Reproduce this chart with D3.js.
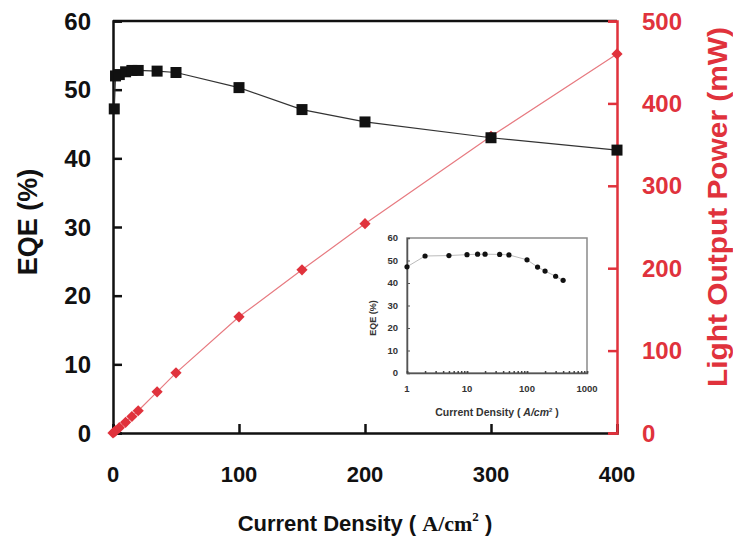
<!DOCTYPE html>
<html><head><meta charset="utf-8">
<script src="https://cdn.jsdelivr.net/npm/d3@7"></script>
<style>body{margin:0;background:#fff}</style>
</head><body>
<svg id="c" width="733" height="553"></svg>
<script>
const currentDensity = [1,2,5,10,15,20,35,50,100,150,200,300,400];
const eqeValues = [47.2,52.0,52.2,52.6,52.8,52.8,52.7,52.5,50.3,47.1,45.3,43.0,41.2];
const powerJ = [0,1,2,5,10,15,20,35,50,100,150,200,300,400];
const powerValues = [0,1.3,2.6,6.5,13,20,27,50,73,141,198,254,360,460];
const xTicks = [0,100,200,300,400];
const eqeTicks = [0,10,20,30,40,50,60];
const powerTicks = [0,100,200,300,400,500];
const insetXTicks = [1,10,100,1000];
const insetYTicks = [0,10,20,30,40,50,60];

const svg = d3.select("#c");
const RED = "#e0323c";
const FONT = "Liberation Sans, Arial, sans-serif";

const x = d3.scaleLinear().domain([0,400]).range([113,617]);
const yL = d3.scaleLinear().domain([0,60]).range([433,21]);
const yR = d3.scaleLinear().domain([0,500]).range([433,21]);

// frame top
svg.append("line").attr("x1",113).attr("x2",617).attr("y1",yL(60)).attr("y2",yL(60)).attr("stroke","#111").attr("stroke-width",2.5);

// left axis
const gL = svg.append("g").attr("transform","translate(113,0)")
  .call(d3.axisRight(yL).tickValues(eqeTicks).tickSize(9).tickFormat(""));
gL.select(".domain").attr("stroke","#111").attr("stroke-width",2.5);
gL.selectAll(".tick line").attr("stroke","#111").attr("stroke-width",2.5);
svg.append("g").selectAll("text").data(eqeTicks).join("text")
  .attr("x",91).attr("y",d=>yL(d)).attr("dy","0.36em").attr("text-anchor","end")
  .attr("font-family",FONT).attr("font-size",24).attr("font-weight","bold").attr("fill","#111").text(d=>d);

// bottom axis
const gB = svg.append("g").attr("transform","translate(0,433)")
  .call(d3.axisTop(x).tickValues(xTicks).tickSize(9).tickFormat(""));
gB.select(".domain").attr("stroke","#111").attr("stroke-width",2.5);
gB.selectAll(".tick line").attr("stroke","#111").attr("stroke-width",2.5);
svg.append("g").selectAll("text").data(xTicks).join("text")
  .attr("x",d=>x(d)).attr("y",474).attr("dy","0.36em").attr("text-anchor","middle")
  .attr("font-family",FONT).attr("font-size",22).attr("font-weight","bold").attr("fill","#111").text(d=>d);

// right axis
const gR = svg.append("g").attr("transform","translate(617,0)")
  .call(d3.axisLeft(yR).tickValues(powerTicks).tickSize(9).tickFormat(""));
gR.select(".domain").attr("stroke",RED).attr("stroke-width",2.5);
gR.selectAll(".tick line").attr("stroke",RED).attr("stroke-width",2.5);
svg.append("g").selectAll("text").data(powerTicks).join("text")
  .attr("x",642).attr("y",d=>yR(d)).attr("dy","0.36em").attr("text-anchor","start")
  .attr("font-family",FONT).attr("font-size",24).attr("font-weight","bold").attr("fill",RED).text(d=>d);

// axis titles
svg.append("text").attr("transform","translate(37,222) rotate(-90)").attr("text-anchor","middle")
  .attr("font-family",FONT).attr("font-size",27).attr("font-weight","bold").attr("fill","#111").text("EQE (%)");
svg.append("text").attr("transform","translate(727,207) rotate(-90)").attr("text-anchor","middle")
  .attr("textLength",360).attr("lengthAdjust","spacingAndGlyphs")
  .attr("font-family",FONT).attr("font-size",27).attr("font-weight","bold").attr("fill",RED).text("Light Output Power (mW)");
const xt = svg.append("text").attr("x",365).attr("y",531).attr("text-anchor","middle")
  .attr("font-family",FONT).attr("font-size",22).attr("font-weight","bold").attr("fill","#111");
xt.append("tspan").text("Current Density ( ");
xt.append("tspan").attr("font-family","Liberation Serif, Times New Roman, serif").text("A/cm");
xt.append("tspan").attr("font-family","Liberation Serif, serif").attr("font-size",13).attr("dy",-10).text("2");
xt.append("tspan").attr("dy",10).text(" )");

// power line & markers
const pData = powerJ.map((j,i)=>[j,powerValues[i]]);
svg.append("path").datum(pData).attr("fill","none").attr("stroke","#e77a80").attr("stroke-width",1.2)
  .attr("d",d3.line().x(d=>x(d[0])).y(d=>yR(d[1])));
svg.append("g").selectAll("path").data(pData).join("path")
  .attr("transform",d=>`translate(${x(d[0])},${yR(d[1])})`)
  .attr("d",d3.symbol(d3.symbolDiamond2 || d3.symbolDiamond,80)).attr("fill",RED);

// EQE line & markers
const eData = currentDensity.map((j,i)=>[j,eqeValues[i]]);
svg.append("path").datum(eData).attr("fill","none").attr("stroke","#333").attr("stroke-width",1.2)
  .attr("d",d3.line().x(d=>x(d[0])).y(d=>yL(d[1])));
svg.append("g").selectAll("rect").data(eData).join("rect")
  .attr("x",d=>x(d[0])-5.5).attr("y",d=>yL(d[1])-5.5).attr("width",11).attr("height",11).attr("fill","#111");

// inset
const ix = d3.scaleLog().domain([1,1000]).range([407,587]);
const iy = d3.scaleLinear().domain([0,60]).range([373,238]);
const GRAY = "#8a8a8a";
svg.append("rect").attr("x",407).attr("y",238).attr("width",180).attr("height",135)
  .attr("fill","#fff").attr("stroke",GRAY).attr("stroke-width",1.5);
const giL = svg.append("g").attr("transform","translate(407,0)")
  .call(d3.axisRight(iy).tickValues(insetYTicks).tickSize(3).tickFormat(""));
giL.select(".domain").attr("stroke","#555").attr("stroke-width",1.5);
giL.selectAll(".tick line").attr("stroke","#555");
svg.append("g").selectAll("text").data(insetYTicks).join("text")
  .attr("x",398).attr("y",d=>iy(d)).attr("dy","0.36em").attr("text-anchor","end")
  .attr("font-family",FONT).attr("font-size",9.5).attr("font-weight","bold").attr("fill","#333").text(d=>d);
const minor = [];
[1,10,100].forEach(b=>{for(let k=1;k<=10;k++) minor.push(b*k);});
const giB = svg.append("g").attr("transform","translate(0,373)")
  .call(d3.axisTop(ix).tickValues(minor).tickSize(2).tickFormat(""));
giB.select(".domain").attr("stroke","#555").attr("stroke-width",1.5);
giB.selectAll(".tick line").attr("stroke","#444").attr("stroke-width",1.5);
svg.append("g").selectAll("text").data(insetXTicks).join("text")
  .attr("x",d=>ix(d)).attr("y",389).attr("dy","0.36em").attr("text-anchor","middle")
  .attr("font-family",FONT).attr("font-size",9.5).attr("font-weight","bold").attr("fill","#333").text(d=>d);
svg.append("text").attr("transform","translate(376,318) rotate(-90)").attr("text-anchor","middle")
  .attr("font-family",FONT).attr("font-size",9).attr("font-weight","bold").attr("fill","#333").text("EQE (%)");
const it = svg.append("text").attr("x",497).attr("y",416).attr("text-anchor","middle")
  .attr("font-family",FONT).attr("font-size",10.5).attr("font-weight","bold").attr("fill","#333");
it.append("tspan").text("Current Density ( ");
it.append("tspan").attr("font-style","italic").text("A/cm");
it.append("tspan").attr("font-size",6).attr("dy",-4).text("2");
it.append("tspan").attr("dy",4).text(" )");
svg.append("path").datum(eData).attr("fill","none").attr("stroke","#bbb").attr("stroke-width",1)
  .attr("d",d3.line().x(d=>ix(d[0])).y(d=>iy(d[1])));
svg.append("g").selectAll("circle").data(eData).join("circle")
  .attr("cx",d=>ix(d[0])).attr("cy",d=>iy(d[1])).attr("r",2.6).attr("fill","#111");
</script>
</body></html>
